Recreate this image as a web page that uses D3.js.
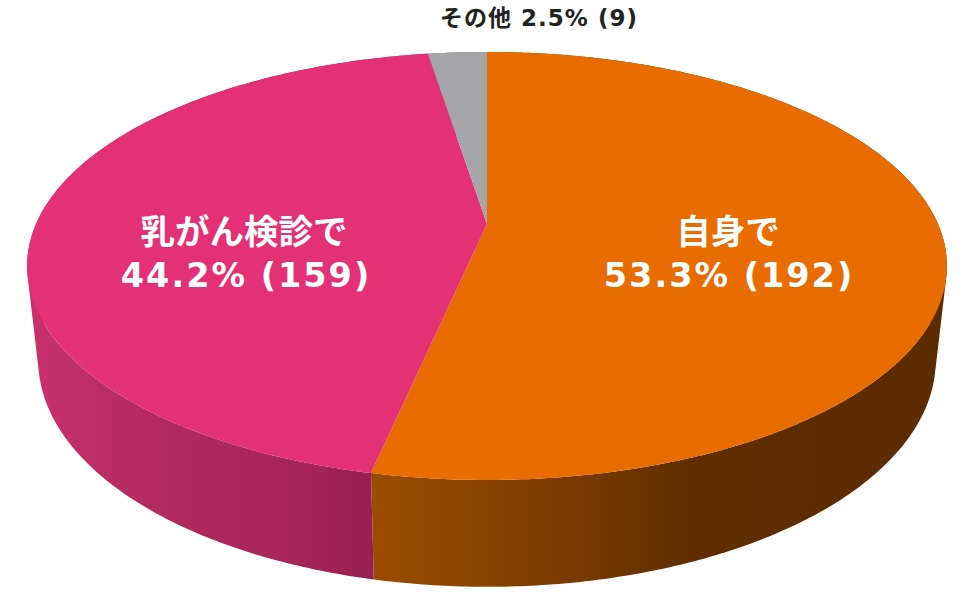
<!DOCTYPE html>
<html>
<head>
<meta charset="utf-8">
<script src="https://cdn.jsdelivr.net/npm/d3@7"></script>
<style>
  html, body { margin: 0; padding: 0; background: #fff; }
  svg { display: block; }
  text { font-family: "DejaVu Sans", "Noto Sans CJK JP", sans-serif; font-weight: bold; text-anchor: middle; }
</style>
</head>
<body>
<script>
const width = 975;
const height = 593;

const categories = ['自身で', '乳がん検診で', 'その他'];
const counts = [192, 159, 9];
const percents = ['53.3%', '44.2%', '2.5%'];

const topColors = ['#e86c00', '#e43075', '#a5a5a8'];
const sideStops = [
    [['#9a4c00', 375], ['#8a4400', 480], ['#733700', 600], ['#5e2d00', 700], ['#5c2b00', 945]],
    [['#c9316f', 30], ['#b22a60', 150], ['#a62559', 300], ['#981f50', 375]],
    [['#77777a', 430], ['#77777a', 487]]
];

const svg = d3.select('body').append('svg')
    .attr('width', width)
    .attr('height', height);

// the pie is seen in perspective, so the centre is not the middle of the ellipse
const tilt = 0.196;
const top3d = {R: 451, b: 161.9, c: 224};
const bottom3d = {R: 440, b: 155.8, c: 316};
const cx = 487;

function project(disc, angle) {
    const u = Math.sin(angle);
    const v = -Math.cos(angle);
    const w = 1 - tilt * v;
    return [cx + disc.R * u / w, (disc.b * v + disc.c) / w];
}

function rim(disc, a0, a1) {
    return d3.range(a0, a1, 0.01).concat([a1]).map(a => project(disc, a));
}

// wall of one slice: small quads, all wound the same way so they fill as a union
function wall(d) {
    const upper = rim(top3d, d.startAngle, d.endAngle);
    const lower = rim(bottom3d, d.startAngle, d.endAngle);
    return d3.pairs(d3.range(upper.length)).map(([i, j]) => {
        const quad = [upper[i], upper[j], lower[j], lower[i]];
        if (d3.polygonArea(quad) < 0) quad.reverse();
        return line(quad) + 'Z';
    }).join('');
}

const pie = d3.pie().sort(null)(counts);
const line = d3.line();

const defs = svg.append('defs');
sideStops.forEach((stops, i) => {
    const grad = defs.append('linearGradient')
        .attr('id', `side${i}`)
        .attr('gradientUnits', 'userSpaceOnUse')
        .attr('x1', stops[0][1])
        .attr('x2', stops[stops.length - 1][1])
        .attr('y1', 0)
        .attr('y2', 0);
    stops.forEach(s => {
        grad.append('stop')
            .attr('offset', (s[1] - stops[0][1]) / (stops[stops.length - 1][1] - stops[0][1]))
            .attr('stop-color', s[0]);
    });
});

svg.selectAll('.side')
    .data(pie)
    .enter()
    .append('path')
    .attr('class', 'side')
    .attr('d', wall)
    .attr('fill', (d, i) => `url(#side${i})`);

svg.selectAll('.slice')
    .data(pie)
    .enter()
    .append('path')
    .attr('class', 'slice')
    .attr('d', d => line([[cx, top3d.c]].concat(rim(top3d, d.startAngle, d.endAngle))) + 'Z')
    .attr('fill', (d, i) => topColors[i]);

// 自身で
svg.append('text').text(categories[0])
    .attr('x', 728).attr('y', 244)
    .attr('font-size', 34.5).attr('fill', '#fff');
svg.append('text').text(`${percents[0]} (${counts[0]})`)
    .attr('x', 729).attr('y', 287)
    .attr('font-size', 33.5).attr('letter-spacing', 2).attr('fill', '#fff');

// 乳がん検診で
svg.append('text').text(categories[1])
    .attr('x', 244).attr('y', 244)
    .attr('font-size', 34.5).attr('fill', '#fff');
svg.append('text').text(`${percents[1]} (${counts[1]})`)
    .attr('x', 246).attr('y', 287)
    .attr('font-size', 33.5).attr('letter-spacing', 2).attr('fill', '#fff');

// その他
svg.append('text').text(`${categories[2]} ${percents[2]} (${counts[2]})`)
    .attr('x', 539).attr('y', 26)
    .attr('font-size', 23).attr('letter-spacing', 1).attr('fill', '#222');
</script>
</body>
</html>
